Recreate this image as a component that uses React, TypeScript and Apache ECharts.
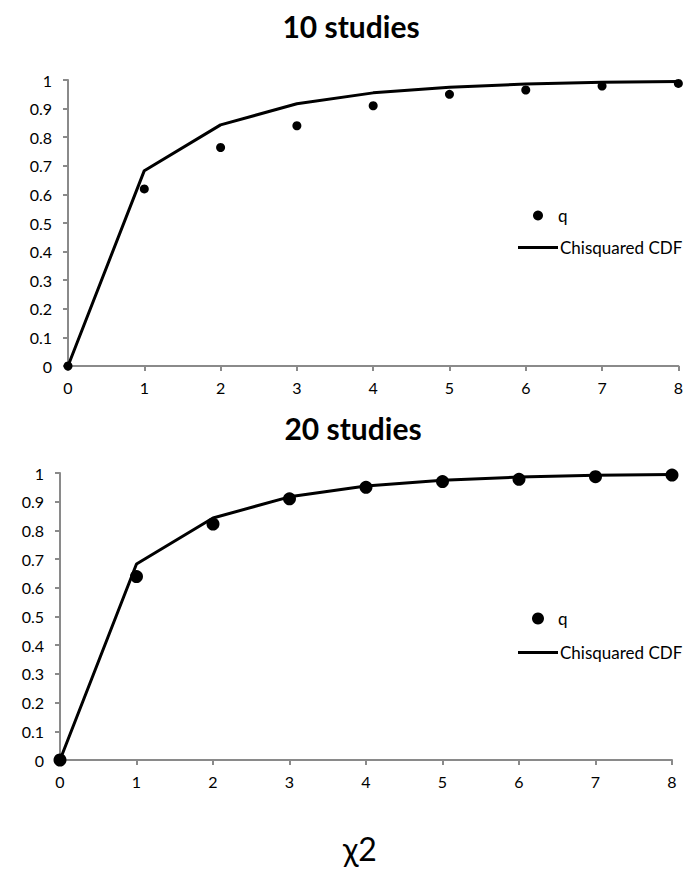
import React, { useEffect, useRef } from "react";
import * as echarts from "echarts";

const xValues = [0, 1, 2, 3, 4, 5, 6, 7, 8];
const cdfValues = [0, 0.683, 0.843, 0.917, 0.955, 0.975, 0.986, 0.992, 0.995];
const q10Values = [0, 0.619, 0.764, 0.84, 0.91, 0.95, 0.965, 0.979, 0.988];
const q20Values = [0, 0.639, 0.822, 0.91, 0.95, 0.97, 0.978, 0.987, 0.993];
const panelTitles = ["10 studies", "20 studies"];
const seriesNames = ["q", "Chisquared CDF"];
const xAxisTitle = "χ2";

const FONT = "Lato, 'Open Sans', sans-serif";
const AXIS_GRAY = "#8a8a8a";

export default function App() {
  const ref = useRef<HTMLDivElement>(null);

  useEffect(() => {
    document.body.style.margin = "0";
    if (!ref.current) return;
    const chart = echarts.init(ref.current, undefined, { renderer: "svg" });

    const pairs = (ys: number[]) => xValues.map((x, i) => [x, ys[i]]);

    const xAxisBase = {
      type: "value" as const,
      min: 0,
      max: 8,
      interval: 1,
      splitLine: { show: false },
      axisLine: { lineStyle: { color: AXIS_GRAY, width: 2 } },
      axisTick: { length: 5, lineStyle: { color: AXIS_GRAY, width: 2 } },
      axisLabel: { color: "#000", fontFamily: FONT, fontSize: 16, margin: 13 },
    };
    const yAxisBase = {
      type: "value" as const,
      min: 0,
      max: 1,
      interval: 0.1,
      splitLine: { show: false },
      axisLine: { show: true, lineStyle: { color: AXIS_GRAY, width: 2 } },
      axisTick: { show: true, length: 5, lineStyle: { color: AXIS_GRAY, width: 2 } },
      axisLabel: { color: "#000", fontFamily: FONT, fontSize: 16, margin: 16 },
    };

    const legendText = { color: "#000", fontFamily: FONT, fontSize: 17 };
    const dotStyle = { color: "#000", opacity: 1 };

    chart.setOption({
      animation: false,
      backgroundColor: "#fff",
      grid: [
        { left: 68, top: 80, width: 614, height: 286 },
        { left: 60, top: 473, width: 612, height: 287 },
      ],
      xAxis: [
        { ...xAxisBase, gridIndex: 0 },
        { ...xAxisBase, gridIndex: 1 },
      ],
      yAxis: [
        { ...yAxisBase, gridIndex: 0 },
        { ...yAxisBase, gridIndex: 1 },
      ],
      legend: [
        {
          data: [{ name: seriesNames[0], icon: "circle", itemStyle: dotStyle }],
          left: 528, top: 202, itemWidth: 10, itemHeight: 10,
          selectedMode: false,
          textStyle: { ...legendText, padding: [0, 0, 0, 10] },
        },
        {
          data: [{ name: seriesNames[1], icon: "rect" }],
          left: 513, top: 234, itemWidth: 40, itemHeight: 3,
          selectedMode: false,
          textStyle: { ...legendText, padding: [0, 0, 0, -3] },
        },
        {
          data: [{ name: seriesNames[0], icon: "circle", itemStyle: dotStyle }],
          left: 527, top: 605, itemWidth: 12, itemHeight: 12,
          selectedMode: false,
          textStyle: { ...legendText, padding: [0, 0, 0, 9] },
        },
        {
          data: [{ name: seriesNames[1], icon: "rect" }],
          left: 513, top: 639, itemWidth: 40, itemHeight: 3,
          selectedMode: false,
          textStyle: { ...legendText, padding: [0, 0, 0, -3] },
        },
      ],
      graphic: [
        {
          type: "text", x: 351, y: 26,
          style: { text: panelTitles[0], font: `bold 30px ${FONT}`, fill: "#000", textAlign: "center", textVerticalAlign: "middle" },
        },
        {
          type: "text", x: 353, y: 428,
          style: { text: panelTitles[1], font: `bold 30px ${FONT}`, fill: "#000", textAlign: "center", textVerticalAlign: "middle" },
        },
        {
          type: "text", x: 360, y: 848,
          style: { text: xAxisTitle, font: `32px ${FONT}`, fill: "#000", textAlign: "center", textVerticalAlign: "middle" },
        },
      ],
      series: [
        {
          name: seriesNames[1], type: "line", xAxisIndex: 0, yAxisIndex: 0,
          data: pairs(cdfValues), symbol: "none",
          color: "#000", lineStyle: { color: "#000", width: 3 }, z: 2,
        },
        {
          name: seriesNames[0], type: "scatter", xAxisIndex: 0, yAxisIndex: 0,
          data: pairs(q10Values), symbol: "circle", symbolSize: 9,
          itemStyle: dotStyle, color: "#000", clip: false, z: 3,
        },
        {
          name: seriesNames[1], type: "line", xAxisIndex: 1, yAxisIndex: 1,
          data: pairs(cdfValues), symbol: "none",
          color: "#000", lineStyle: { color: "#000", width: 3 }, z: 2,
        },
        {
          name: seriesNames[0], type: "scatter", xAxisIndex: 1, yAxisIndex: 1,
          data: pairs(q20Values), symbol: "circle", symbolSize: 13,
          itemStyle: dotStyle, color: "#000", clip: false, z: 3,
        },
      ],
    });

    return () => chart.dispose();
  }, []);

  return <div ref={ref} style={{ width: 686, height: 870 }} />;
}
